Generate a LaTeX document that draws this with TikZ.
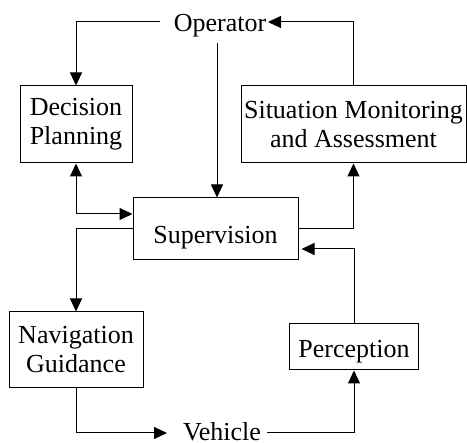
\documentclass[tikz,border=0pt]{standalone}
\usepackage{fontspec}
\setmainfont{Liberation Serif}
\usetikzlibrary{arrows.meta}
\begin{document}
\begin{tikzpicture}[x=1pt,y=-1pt,
  every node/.style={font=\fontsize{26}{29}\selectfont},
  blk/.style={draw,line width=1pt,inner sep=0pt,align=center},
  lbl/.style={inner sep=0pt,anchor=base},
  arr/.style={line width=1pt,-{Triangle[length=13pt,width=12pt]}},
  darr/.style={line width=1pt,{Triangle[length=13pt,width=12pt]}-{Triangle[length=13pt,width=12pt]}}]
\useasboundingbox (0,0) rectangle (467,443);

% blocks
\node[blk,minimum width=112pt,minimum height=77pt] (dec) at (76,124.5) {Decision\\Planning};
\node[blk,minimum width=225pt,minimum height=77pt] (sit) at (353.5,124.5) {Situation Monitoring\\and Assessment};
\node[blk,minimum width=165pt,minimum height=62pt,text height=35.6pt,text depth=5.6pt] (sup) at (215.5,229) {Supervision};
\node[blk,minimum width=134pt,minimum height=76pt] (nav) at (76,350) {Navigation\\Guidance};
\node[blk,minimum width=129pt,minimum height=46pt,text height=27.6pt,text depth=5.6pt] (per) at (354,347) {Perception};

% free-standing labels
\node[lbl] (op) at (220,32) {Operator};
\node[lbl] (veh) at (222,441) {Vehicle};

% loose ends of the connectors around the labels
\coordinate (opL) at (160,22);
\coordinate (opR) at (268,22);
\coordinate (opB) at (217,43);
\coordinate (vhL) at (167,433);
\coordinate (vhR) at (267,433);

% connectors
\draw[arr] (opL) -| (dec.north);
\draw[arr] (sit.north) |- (opR);
\draw[arr] (opB) -- (opB |- sup.north);
\draw[darr] (dec.south) |- ([yshift=15pt]sup.west);
\draw[arr] (sup.west) -| (nav.north);
\draw[arr] (sup.east) -| (sit.south);
\draw[arr] (per.north) |- ([xshift=3pt,yshift=-20pt]sup.east);
\draw[arr] (nav.south) |- (vhL);
\draw[arr] (vhR) -| (per.south);
\end{tikzpicture}
\end{document}
